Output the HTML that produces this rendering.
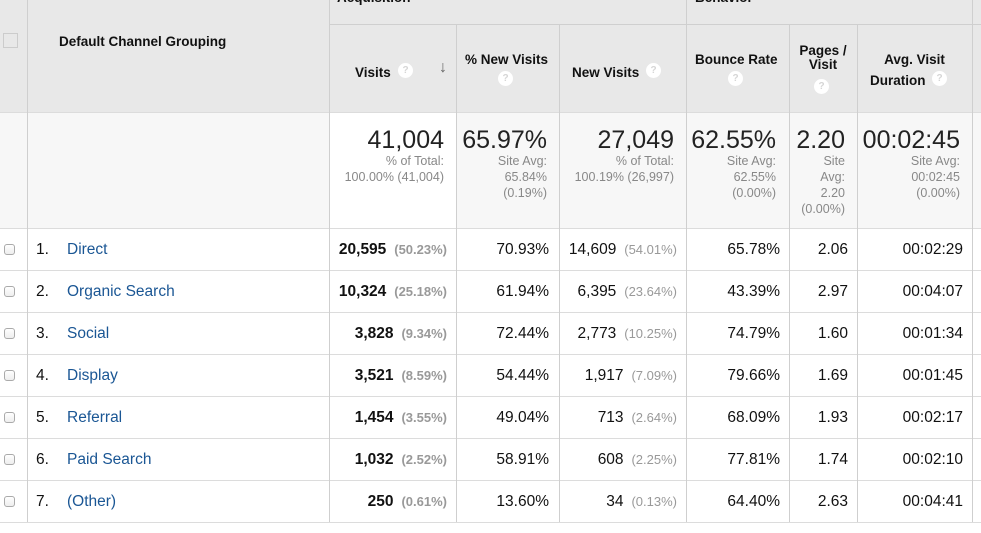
<!DOCTYPE html>
<html><head><meta charset="utf-8">
<style>
body{margin:0;width:981px;height:533px;overflow:hidden;background:#fff;font-family:"Liberation Sans",Arial,sans-serif;position:relative}
div{position:absolute;box-sizing:border-box;white-space:nowrap}
.v{width:1px;background:#cfcfcf}
.h{height:1px;background:#dcdcdc}
.hd{font-weight:bold;font-size:13.5px;color:#111;line-height:15px}
.q{width:15px;height:15px;border-radius:50%;background:#fff;color:#d6d6d6;font-size:10px;font-weight:bold;text-align:center;line-height:15px}
.big{font-size:25px;color:#222;text-align:right;line-height:26px}
.sub{font-size:12.5px;color:#888;text-align:right;line-height:16px}
.d{font-size:15.5px;color:#111;line-height:18px;text-align:right;white-space:nowrap}
.p{font-size:13px;color:#999;font-weight:bold}
.cb{width:11px;height:11px;border:1px solid #aaa;border-radius:3px;background:linear-gradient(#fff,#eee)}
.lnk{color:#1a5694;font-size:15.5px;line-height:18px;white-space:nowrap}
</style></head><body>
<div style="left:0;top:0;width:981px;height:112px;background:#e8e8e8"></div>
<div style="left:0;top:112px;width:981px;height:116px;background:#f7f7f7"></div>
<div style="left:330px;top:112px;width:126px;height:116px;background:#fff"></div>
<div class="hd" style="left:337px;top:-10px">Acquisition</div>
<div class="hd" style="left:695px;top:-10px">Behavior</div>
<div class="h" style="left:329px;top:24px;width:652px;background:#cfcfcf"></div>
<div class="h" style="left:0;top:112px;width:981px"></div>
<div class="h" style="left:0;top:228px;width:981px"></div>
<div style="left:3px;top:33px;width:15px;height:15px;border:1px solid #ccc;background:#e8e8e8"></div>
<div class="hd" style="left:59px;top:34px">Default Channel Grouping</div>
<div class="hd" style="left:355px;top:65px">Visits</div>
<div class="q" style="left:398px;top:63px">?</div>
<div style="left:439px;top:59px;font-size:16px;color:#666;font-weight:bold">↓</div>
<div class="hd" style="left:465px;top:52px">% New Visits</div>
<div class="q" style="left:498px;top:71px">?</div>
<div class="hd" style="left:572px;top:65px">New Visits</div>
<div class="q" style="left:646px;top:63px">?</div>
<div class="hd" style="left:695px;top:52px">Bounce Rate</div>
<div class="q" style="left:728px;top:71px">?</div>
<div class="hd" style="left:789px;top:44px;width:68px;text-align:center;line-height:14px">Pages /<br>Visit</div>
<div class="q" style="left:814px;top:79px">?</div>
<div class="hd" style="left:857px;top:52px;width:115px;text-align:center">Avg. Visit</div>
<div class="hd" style="left:870px;top:73px">Duration</div>
<div class="q" style="left:932px;top:71px">?</div>

<div class="big" style="left:330px;width:114px;top:127px">41,004</div>
<div class="sub" style="left:330px;width:114px;top:153px">% of Total:<br>100.00% (41,004)</div>
<div class="big" style="left:456px;width:91px;top:127px">65.97%</div>
<div class="sub" style="left:456px;width:91px;top:153px">Site Avg:<br>65.84%<br>(0.19%)</div>
<div class="big" style="left:560px;width:114px;top:127px">27,049</div>
<div class="sub" style="left:560px;width:114px;top:153px">% of Total:<br>100.19% (26,997)</div>
<div class="big" style="left:687px;width:89px;top:127px">62.55%</div>
<div class="sub" style="left:687px;width:89px;top:153px">Site Avg:<br>62.55%<br>(0.00%)</div>
<div class="big" style="left:790px;width:55px;top:127px">2.20</div>
<div class="sub" style="left:790px;width:55px;top:153px">Site<br>Avg:<br>2.20<br>(0.00%)</div>
<div class="big" style="left:858px;width:102px;top:127px">00:02:45</div>
<div class="sub" style="left:858px;width:102px;top:153px">Site Avg:<br>00:02:45<br>(0.00%)</div>

<div id="rows"></div>
<div class="v" style="left:27px;top:0;height:522px"></div>
<div class="v" style="left:329px;top:0;height:522px"></div>
<div class="v" style="left:456px;top:24px;height:498px"></div>
<div class="v" style="left:559px;top:24px;height:498px"></div>
<div class="v" style="left:686px;top:0;height:522px"></div>
<div class="v" style="left:789px;top:24px;height:498px"></div>
<div class="v" style="left:857px;top:24px;height:498px"></div>
<div class="v" style="left:972px;top:0;height:522px"></div>
<script>
const channels=["Direct","Organic Search","Social","Display","Referral","Paid Search","(Other)"];
const visits=["20,595","10,324","3,828","3,521","1,454","1,032","250"];
const visitsPct=["(50.23%)","(25.18%)","(9.34%)","(8.59%)","(3.55%)","(2.52%)","(0.61%)"];
const newPct=["70.93%","61.94%","72.44%","54.44%","49.04%","58.91%","13.60%"];
const newVisits=["14,609","6,395","2,773","1,917","713","608","34"];
const newVisitsPct=["(54.01%)","(23.64%)","(10.25%)","(7.09%)","(2.64%)","(2.25%)","(0.13%)"];
const bounce=["65.78%","43.39%","74.79%","79.66%","68.09%","77.81%","64.40%"];
const pages=["2.06","2.97","1.60","1.69","1.93","1.74","2.63"];
const duration=["00:02:29","00:04:07","00:01:34","00:01:45","00:02:17","00:02:10","00:04:41"];
const host=document.getElementById('rows');
function mk(cls,style,html,name,inter){const e=document.createElement('div');e.className=cls;e.style.cssText=style;e.innerHTML=html;


host.appendChild(e);return e;}
channels.forEach((c,i)=>{
 const y=228+i*42;
 mk('h','left:0;top:'+(y+42)+'px;width:981px','', 'row-border','false');
 const t=y+13;
 mk('cb','left:4px;top:'+(y+16)+'px','', 'row-checkbox','true');
 mk('d','left:36px;top:'+t+'px;text-align:left','' + (i+1)+'.','row-index','false');
 mk('lnk','left:67px;top:'+t+'px',c,'channel-link','true');
 mk('d','left:330px;width:117px;top:'+t+'px','<b>'+visits[i]+'</b> <span class="p">&nbsp;'+visitsPct[i]+'</span>','visits-cell','false');
 mk('d','left:456px;width:93px;top:'+t+'px',newPct[i],'new-visits-pct-cell','false');
 mk('d','left:560px;width:117px;top:'+t+'px',newVisits[i]+' <span class="p" style="font-weight:normal">&nbsp;'+newVisitsPct[i]+'</span>','new-visits-cell','false');
 mk('d','left:687px;width:93px;top:'+t+'px',bounce[i],'bounce-rate-cell','false');
 mk('d','left:790px;width:58px;top:'+t+'px',pages[i],'pages-visit-cell','false');
 mk('d','left:858px;width:105px;top:'+t+'px',duration[i],'duration-cell','false');
});
</script>
</body></html>
